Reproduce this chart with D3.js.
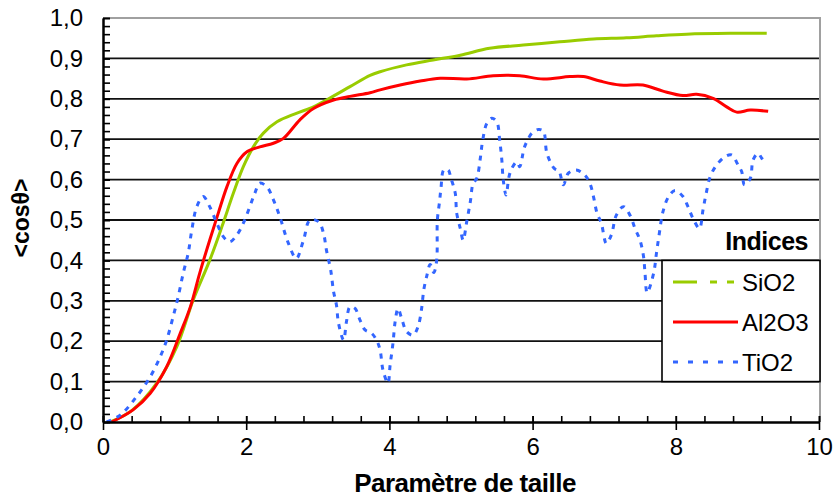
<!DOCTYPE html>
<html>
<head>
<meta charset="utf-8">
<script src="https://cdn.jsdelivr.net/npm/d3@7"></script>
<style>
  html, body { margin: 0; padding: 0; background: #fff; }
  svg { display: block; font-family: "Liberation Sans", Arial, sans-serif; }
</style>
</head>
<body>
<svg id="chart" width="838" height="497"></svg>
<script>
// Mean cosine <cosθ> versus size parameter for three refractive indices
const seriesNames = ["SiO2", "Al2O3", "TiO2"];
const seriesColors = ["#99CC00", "#FF0000", "#3366FF"];

const sio2 = [
  [0.10,0.0],[0.40,0.028],[0.75,0.096],[1.03,0.186],[1.26,0.302],[1.49,0.40],[1.66,0.483],
  [1.82,0.566],[1.96,0.632],[2.10,0.681],[2.24,0.715],[2.43,0.743],[2.70,0.764],[2.94,0.78],
  [3.12,0.797],[3.45,0.83],[3.73,0.858],[3.87,0.867],[4.24,0.884],[4.61,0.896],[4.99,0.908],
  [5.40,0.925],[5.87,0.933],[6.38,0.941],[6.85,0.948],[7.31,0.951],[7.73,0.956],[8.15,0.96],
  [8.76,0.962],[9.27,0.962]
];

const al2o3 = [
  [0.12,0.0],[0.42,0.03],[0.66,0.071],[0.89,0.137],[1.08,0.22],[1.22,0.285],[1.35,0.368],
  [1.49,0.45],[1.61,0.517],[1.73,0.582],[1.87,0.64],[2.01,0.669],[2.19,0.681],[2.38,0.69],
  [2.52,0.702],[2.75,0.748],[2.94,0.776],[3.22,0.797],[3.45,0.806],[3.73,0.815],[3.87,0.822],
  [4.15,0.834],[4.43,0.844],[4.71,0.851],[5.08,0.849],[5.45,0.857],[5.82,0.857],[6.15,0.849],
  [6.52,0.855],[6.71,0.855],[6.94,0.844],[7.22,0.834],[7.54,0.834],[7.82,0.819],[8.10,0.808],
  [8.29,0.811],[8.52,0.801],[8.71,0.78],[8.85,0.767],[9.04,0.772],[9.29,0.769]
];

const tio2 = [
  [0.05,0.0],[0.24,0.017],[0.47,0.063],[0.66,0.112],[0.80,0.162],[0.89,0.203],[0.98,0.261],
  [1.05,0.31],[1.12,0.368],[1.19,0.418],[1.24,0.475],[1.31,0.533],[1.40,0.558],[1.49,0.533],
  [1.59,0.492],[1.68,0.459],[1.77,0.446],[1.87,0.463],[1.96,0.492],[2.05,0.533],[2.12,0.566],
  [2.19,0.591],[2.29,0.582],[2.38,0.55],[2.47,0.508],[2.59,0.442],[2.70,0.405],[2.80,0.45],
  [2.89,0.50],[3.01,0.496],[3.08,0.467],[3.12,0.426],[3.18,0.376],[3.22,0.323],[3.26,0.29],
  [3.29,0.244],[3.36,0.203],[3.40,0.248],[3.45,0.285],[3.52,0.281],[3.59,0.252],[3.66,0.228],
  [3.75,0.22],[3.82,0.203],[3.87,0.178],[3.91,0.129],[3.98,0.096],[4.01,0.141],[4.05,0.195],
  [4.08,0.248],[4.12,0.281],[4.17,0.257],[4.24,0.224],[4.33,0.215],[4.40,0.236],[4.45,0.281],
  [4.48,0.327],[4.52,0.36],[4.57,0.39],[4.62,0.37],[4.66,0.40],[4.67,0.50],[4.70,0.545],
  [4.72,0.578],[4.76,0.624],[4.82,0.624],[4.86,0.603],[4.92,0.566],[4.94,0.517],[4.99,0.479],
  [5.03,0.45],[5.08,0.496],[5.13,0.545],[5.17,0.591],[5.22,0.603],[5.27,0.653],[5.30,0.694],
  [5.36,0.739],[5.43,0.752],[5.50,0.743],[5.54,0.698],[5.57,0.649],[5.59,0.599],[5.63,0.562],
  [5.67,0.607],[5.71,0.628],[5.78,0.644],[5.82,0.632],[5.88,0.677],[5.92,0.694],[5.99,0.715],
  [6.08,0.724],[6.15,0.72],[6.20,0.665],[6.30,0.628],[6.37,0.62],[6.43,0.587],[6.50,0.616],
  [6.61,0.624],[6.73,0.611],[6.80,0.591],[6.85,0.558],[6.90,0.517],[6.96,0.492],[7.03,0.442],
  [7.10,0.463],[7.17,0.512],[7.27,0.533],[7.36,0.512],[7.43,0.479],[7.50,0.45],[7.55,0.409],
  [7.57,0.368],[7.60,0.32],[7.69,0.368],[7.73,0.418],[7.77,0.467],[7.82,0.52],[7.90,0.558],
  [7.99,0.573],[8.10,0.558],[8.17,0.533],[8.24,0.504],[8.33,0.479],[8.38,0.525],[8.42,0.562],
  [8.48,0.607],[8.57,0.636],[8.69,0.657],[8.78,0.661],[8.87,0.636],[8.92,0.62],[8.96,0.587],
  [9.04,0.603],[9.08,0.649],[9.15,0.665],[9.20,0.653],[9.27,0.64]
];

const xMajorTicks = [0, 2, 4, 6, 8, 10];
const xTickLabels = ["0", "2", "4", "6", "8", "10"];
const yMajorTicks = [0, 0.1, 0.2, 0.3, 0.4, 0.5, 0.6, 0.7, 0.8, 0.9, 1.0];
const yTickLabels = ["0,0", "0,1", "0,2", "0,3", "0,4", "0,5", "0,6", "0,7", "0,8", "0,9", "1,0"];
const xMinorStep = 0.4;
const yMinorStep = 0.02;

const xTitle = "Paramètre de taille";
const yTitle = "<cosθ>";
const legendTitle = "Indices";

// ---- layout ----
const svg = d3.select("#chart");
const plotLeft = 103, plotRight = 819, plotTop = 18, plotBottom = 422;

const x = d3.scaleLinear().domain([0, 10]).range([plotLeft, plotRight]);
const y = d3.scaleLinear().domain([0, 1]).range([plotBottom, plotTop]);

const xMinor = d3.range(0, 10 + 1e-9, xMinorStep);
const yMinor = d3.range(0, 1 + 1e-9, yMinorStep);

// gridlines
svg.append("g")
  .selectAll("line")
  .data(yMajorTicks.filter(v => v > 0 && v < 1))
  .join("line")
  .attr("x1", plotLeft).attr("x2", plotRight + 1)
  .attr("y1", d => y(d)).attr("y2", d => y(d))
  .attr("stroke", "#111").attr("stroke-width", 1.8);

// plot border (top and right) in gray
svg.append("path")
  .attr("d", `M${plotLeft},${y(1)}H${plotRight + 1}V${plotBottom}`)
  .attr("fill", "none").attr("stroke", "#a0a0a0").attr("stroke-width", 2);

// series lines
const line = d3.line()
  .x(d => x(d[0])).y(d => y(d[1]))
  .curve(d3.curveCatmullRom.alpha(0.5));

svg.append("path").datum(sio2)
  .attr("d", line).attr("fill", "none")
  .attr("stroke", seriesColors[0]).attr("stroke-width", 3);

svg.append("path").datum(al2o3)
  .attr("d", line).attr("fill", "none")
  .attr("stroke", seriesColors[1]).attr("stroke-width", 3);

svg.append("path").datum(tio2)
  .attr("d", line).attr("fill", "none")
  .attr("stroke", seriesColors[2]).attr("stroke-width", 3)
  .attr("stroke-dasharray", "5,6");

// ---- axes ----
// x: minor ticks pointing up, major ticks crossing the axis
const xAxisMinor = svg.append("g")
  .attr("transform", `translate(0,${plotBottom})`)
  .call(d3.axisBottom(x).tickValues(xMinor).tickSizeInner(-6).tickSizeOuter(0).tickFormat(""));
const xAxisMajor = svg.append("g")
  .attr("transform", `translate(0,${plotBottom})`)
  .call(d3.axisBottom(x).tickValues(xMajorTicks).tickSizeInner(8).tickSizeOuter(0)
    .tickPadding(8)
    .tickFormat((d, i) => xTickLabels[i]));
xAxisMajor.selectAll(".tick line").attr("y1", -6);

// y: minor ticks pointing right, major ticks crossing
const yAxisMinor = svg.append("g")
  .attr("transform", `translate(${plotLeft},0)`)
  .call(d3.axisLeft(y).tickValues(yMinor).tickSizeInner(-7).tickSizeOuter(0).tickFormat(""));
const yAxisMajor = svg.append("g")
  .attr("transform", `translate(${plotLeft},0)`)
  .call(d3.axisLeft(y).tickValues(yMajorTicks).tickSizeInner(8).tickSizeOuter(0)
    .tickPadding(12)
    .tickFormat((d, i) => yTickLabels[i]));
yAxisMajor.selectAll(".tick line").attr("x2", 7);

[xAxisMinor, xAxisMajor, yAxisMinor, yAxisMajor].forEach(g => {
  g.selectAll(".domain").attr("stroke", "#000").attr("stroke-width", 2);
  g.selectAll(".tick line").attr("stroke", "#000").attr("stroke-width", 1.6);
  g.selectAll("text")
    .attr("font-family", "'Liberation Sans', Arial, sans-serif")
    .attr("font-size", 24).attr("fill", "#000");
});

// axis titles
svg.append("text")
  .attr("x", (plotLeft + plotRight) / 2 + 4).attr("y", 492)
  .attr("text-anchor", "middle")
  .attr("font-size", 26).attr("font-weight", "bold")
  .attr("letter-spacing", -0.5)
  .text(xTitle);

svg.append("text")
  .attr("transform", `translate(29,218) rotate(-90)`)
  .attr("text-anchor", "middle")
  .attr("font-size", 23).attr("font-weight", "bold")
  .text(yTitle);

// ---- legend ----
svg.append("text")
  .attr("x", 808).attr("y", 250)
  .attr("text-anchor", "end")
  .attr("font-size", 25).attr("font-weight", "bold")
  .attr("letter-spacing", -0.5)
  .text(legendTitle);

const lg = svg.append("g");
lg.append("rect")
  .attr("x", 662).attr("y", y(0.4)).attr("width", plotRight + 1 - 662).attr("height", y(0.1) - y(0.4))
  .attr("fill", "#fff").attr("stroke", "#000").attr("stroke-width", 1.6);

const legendDash = ["24,13,7,10,7", null, "5,10"];
const rowY = [282, 322, 362];
seriesNames.forEach((name, i) => {
  lg.append("line")
    .attr("x1", 673).attr("x2", 738)
    .attr("y1", rowY[i]).attr("y2", rowY[i])
    .attr("stroke", seriesColors[i]).attr("stroke-width", 3)
    .attr("stroke-dasharray", legendDash[i]);
  lg.append("text")
    .attr("x", 742).attr("y", rowY[i] + 9)
    .attr("font-size", 24)
    .text(name);
});
</script>
</body>
</html>
